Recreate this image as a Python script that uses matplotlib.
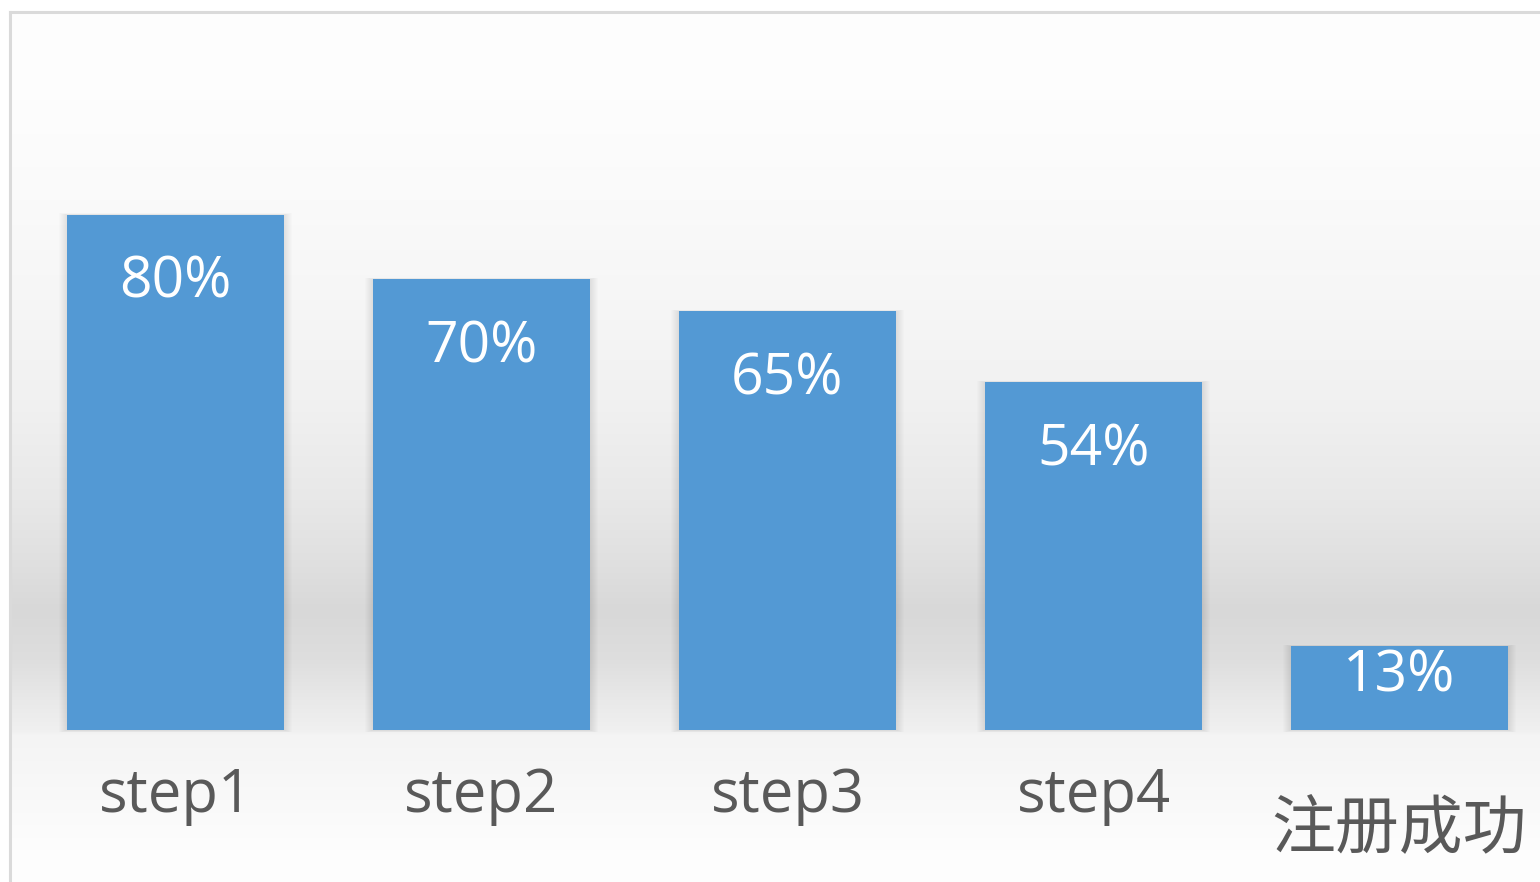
import numpy as np
import matplotlib.pyplot as plt
from matplotlib.patches import Rectangle

plt.rcParams['font.family'] = ['Open Sans', 'Noto Sans CJK SC', 'DejaVu Sans']

labels = ['step1', 'step2', 'step3', 'step4', '注册成功']
values = [80, 70, 65, 54, 13]
value_text = ['80%', '70%', '65%', '54%', '13%']

bar_color = '#5399D4'
text_gray = '#595959'

W, H = 1540, 882
fig = plt.figure(figsize=(W / 100, H / 100), dpi=100)
fig.patch.set_facecolor('white')

# axes: frame line at left x=10 px, top y=12 px
ax = fig.add_axes([10 / W, 0, 1 - 10 / W, (H - 12) / H])

px_x = 306.0        # px per category
px_y = 6.44         # px per percent
x0_px = 175.5 - 10  # centre of first bar from axes left
y0_px = 730 - 12    # baseline from axes top
ax.set_xlim(-x0_px / px_x, (W - 10 - x0_px) / px_x)
ax.set_ylim(-(H - 12 - y0_px) / px_y, y0_px / px_y)

# vertical background gradient (style only)
rows = np.arange(12, H)
stop_y = [12, 100, 200, 300, 400, 500, 560, 610, 660, 700, 730, 735, 800, 850, 882]
stop_g = [254, 253, 250, 246, 241, 232, 224, 216, 222, 233, 240, 244, 249, 253, 254]
g = np.interp(rows, stop_y, stop_g) / 255.0
grad = np.repeat(g[:, None], 3, axis=1)[:, None, :]
ax.imshow(grad, extent=[0, 1, 0, 1], transform=ax.transAxes, aspect='auto',
          zorder=0, interpolation='bilinear')

x = np.arange(len(values))
width = 217 / px_x

# soft shadows mainly on the sides of the bars
for xi, v in zip(x, values):
    for k in range(1, 9):
        dx = k / px_x
        dy = k / px_y
        ax.add_patch(Rectangle((xi - width / 2 - dx, -dy * 0.3), width + 2 * dx, v + dy * 0.5,
                               facecolor='black', alpha=0.011, edgecolor='none', zorder=1))

ax.bar(x, values, width=width, color=bar_color, edgecolor='none', zorder=2)

for xi, v, t in zip(x, values, value_text):
    off = min(83, 0.54 * v * px_y) * 0.72
    ax.annotate(t, (xi, v), xytext=(0, -off), textcoords='offset points',
                ha='center', va='baseline', color='white', fontsize=41, zorder=3)

for xi, lab in zip(x, labels):
    if lab.isascii():
        ax.annotate(lab, (xi, 0), xytext=(0, -82 * 0.72), textcoords='offset points',
                    ha='center', va='baseline', color=text_gray, fontsize=43)
    else:
        ax.annotate(lab, (xi, 0), xytext=(0, -117 * 0.72), textcoords='offset points',
                    ha='center', va='baseline', color=text_gray, fontsize=46,
                    family=['Noto Sans CJK SC', 'DejaVu Sans'])

ax.set_xticks([])
ax.set_yticks([])
for s in ['right', 'bottom']:
    ax.spines[s].set_visible(False)
for s in ['left', 'top']:
    ax.spines[s].set_color('#DADADA')
    ax.spines[s].set_linewidth(2.2)

fig.savefig('out.png', dpi=100, facecolor='white')
